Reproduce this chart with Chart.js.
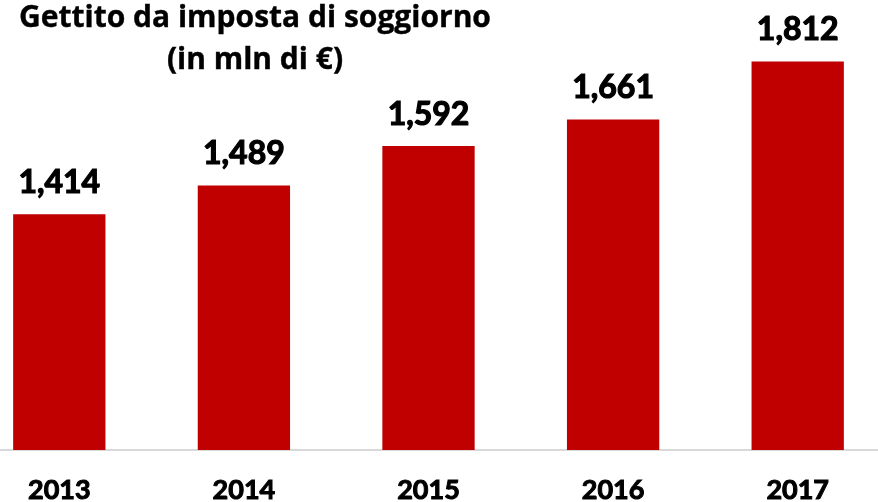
<!DOCTYPE html>
<html>
<head>
<meta charset="utf-8">
<script src="https://cdn.jsdelivr.net/npm/chart.js@4/dist/chart.umd.min.js"></script>
<style>
  html, body { margin: 0; padding: 0; background: #fff; }
  body { width: 878px; height: 502px; overflow: hidden; position: relative; }
  #wrap { position: absolute; left: -33px; top: 0; width: 923px; height: 502px; }
  #title {
    position: absolute; left: 0; top: -5px; width: 510px;
    text-align: center; font-family: "Open Sans", sans-serif; font-weight: 700;
    font-size: 30px; line-height: 42px; color: #000; z-index: 2;
    -webkit-text-stroke: 0.4px #000;
  }
</style>
</head>
<body>
<div id="title">Gettito da imposta di soggiorno<br>(in mln di €)</div>
<div id="wrap"><canvas id="gettitoChart"></canvas></div>
<script>
// dati (milioni di €)
const years = ['2013', '2014', '2015', '2016', '2017'];
const gettito = [1.414, 1.489, 1.592, 1.661, 1.812];

const barColor = '#C00000';

// etichette valore sopra le barre, formato "1,414"
const valueLabels = {
    id: 'valueLabels',
    afterDatasetsDraw(chart) {
        const ctx = chart.ctx;
        const meta = chart.getDatasetMeta(0);
        ctx.save();
        ctx.font = 'bold 32px Lato, sans-serif';
        ctx.fillStyle = '#000';
        ctx.strokeStyle = '#000';
        ctx.lineWidth = 1.2;
        ctx.textAlign = 'center';
        ctx.textBaseline = 'alphabetic';
        meta.data.forEach((bar, i) => {
            const txt = gettito[i].toFixed(3).replace('.', ',');
            ctx.fillText(txt, bar.x, bar.y - 21);
            ctx.strokeText(txt, bar.x, bar.y - 21);
        });
        ctx.restore();
    }
};

new Chart(document.getElementById('gettitoChart'), {
    type: 'bar',
    data: {
        labels: years,
        datasets: [{
            data: gettito,
            backgroundColor: barColor,
            borderWidth: 0,
            barPercentage: 0.5,
            categoryPercentage: 1
        }]
    },
    options: {
        responsive: true,
        maintainAspectRatio: false,
        animation: false,
        layout: { padding: 0 },
        plugins: {
            legend: { display: false },
            tooltip: { enabled: false }
        },
        scales: {
            x: {
                grid: { display: false, drawTicks: false },
                border: { display: true, color: '#D9D9D9', width: 2 },
                ticks: {
                    color: '#000',
                    padding: 24,
                    textStrokeColor: '#000',
                    textStrokeWidth: 1,
                    font: { family: 'Lato', weight: 'bold', size: 27 }
                },
                afterFit(scale) { scale.height = 52; }
            },
            y: {
                display: false,
                min: 0.8,
                max: 1.972
            }
        }
    },
    plugins: [valueLabels]
});
</script>
</body>
</html>
